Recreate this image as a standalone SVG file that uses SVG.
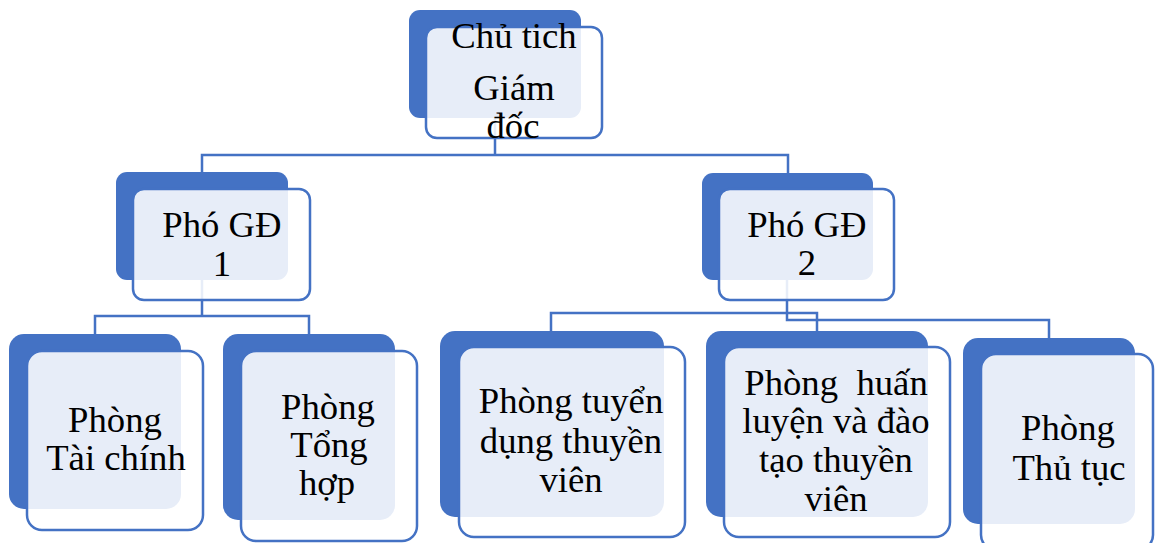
<svg xmlns="http://www.w3.org/2000/svg" width="1155" height="543" viewBox="0 0 1155 543">
<style>
.back{fill:#4472C4}
.front{fill:#FFFFFF;fill-opacity:0.87;stroke:#4472C4;stroke-width:2.5}
.conn{fill:none;stroke:#4472C4;stroke-width:2.5}
text{font-family:"Liberation Serif","Times New Roman",serif;font-size:36.7px;fill:#000;text-anchor:middle}
</style>
<rect width="1155" height="543" fill="#FFFFFF"/>
<g id="connectors">
<path class="conn" d="M495,118 V155 M202,172 V155 H788 V173"/>
<path class="conn" d="M202,280 V316 M95,334 V316 H309 V334"/>
<path class="conn" d="M787,280 V320 H1049 V338"/>
<path class="conn" d="M551,331 V313 H817 V331"/>
</g>
<g id="chutich">
<rect class="back" x="409" y="10" width="172" height="108" rx="11"/>
<rect class="front" x="426" y="27" width="176" height="111" rx="11"/>
<text x="514" y="48">Chủ tich</text>
<text x="514" y="100">Giám</text>
<text x="513" y="138">đốc</text>
</g>
<g id="phogd1">
<rect class="back" x="116" y="172" width="172" height="108" rx="11"/>
<rect class="front" x="133" y="189" width="177" height="111" rx="11"/>
<text x="222" y="237">Phó GĐ</text>
<text x="222" y="276">1</text>
</g>
<g id="phogd2">
<rect class="back" x="702" y="173" width="171" height="107" rx="11"/>
<rect class="front" x="719" y="189" width="175" height="111" rx="11"/>
<text x="807" y="237">Phó GĐ</text>
<text x="807" y="275">2</text>
</g>
<g id="taichinh">
<rect class="back" x="9" y="334" width="172" height="175" rx="15"/>
<rect class="front" x="27" y="351" width="176" height="179" rx="15"/>
<text x="115" y="432">Phòng</text>
<text x="116" y="470">Tài chính</text>
</g>
<g id="tonghop">
<rect class="back" x="223" y="334" width="172" height="186" rx="15"/>
<rect class="front" x="241" y="351" width="176" height="190" rx="15"/>
<text x="328" y="419">Phòng</text>
<text x="329" y="457">Tổng</text>
<text x="327" y="495">hợp</text>
</g>
<g id="tuyendung">
<rect class="back" x="440" y="331" width="224" height="186" rx="15"/>
<rect class="front" x="459" y="347" width="226" height="190" rx="15"/>
<text x="571" y="413">Phòng tuyển</text>
<text x="571" y="453">dụng thuyền</text>
<text x="571" y="492">viên</text>
</g>
<g id="huanluyen">
<rect class="back" x="706" y="331" width="222" height="186" rx="15"/>
<rect class="front" x="724" y="347" width="226" height="190" rx="15"/>
<text x="836" y="395" xml:space="preserve">Phòng  huấn</text>
<text x="836" y="433">luyện và đào</text>
<text x="836" y="472">tạo thuyền</text>
<text x="836" y="511">viên</text>
</g>
<g id="thutuc">
<rect class="back" x="963" y="338" width="172" height="186" rx="15"/>
<rect class="front" x="981" y="354" width="172" height="196" rx="15"/>
<text x="1068" y="440">Phòng</text>
<text x="1069" y="480">Thủ tục</text>
</g>
</svg>
